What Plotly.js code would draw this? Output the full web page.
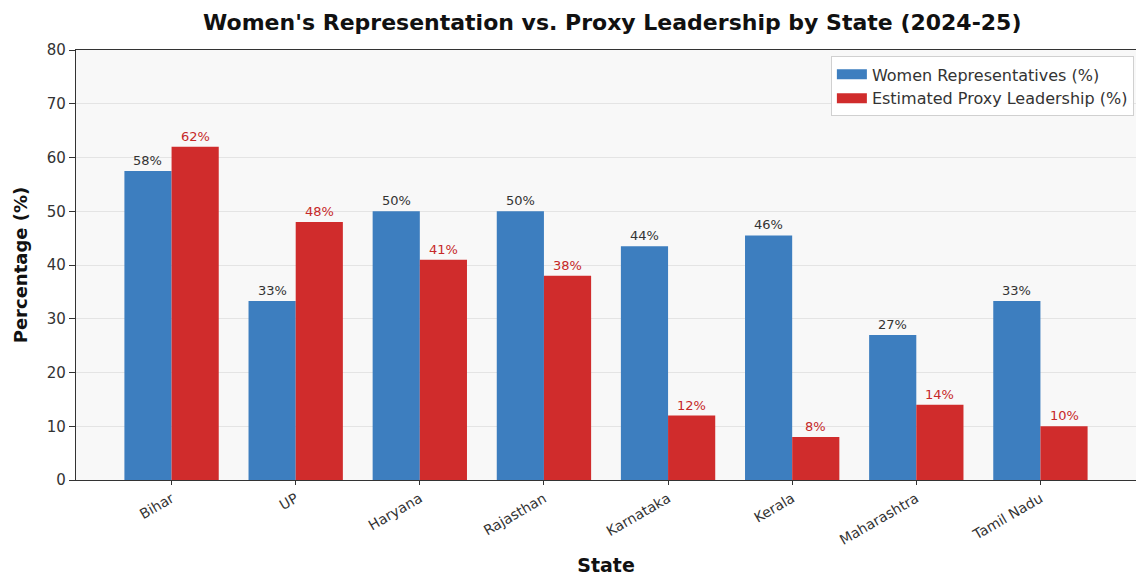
<!DOCTYPE html>
<html>
<head>
<meta charset="utf-8">
<script src="https://cdn.plot.ly/plotly-3.0.1.min.js"></script>
<style>
  html, body { margin: 0; padding: 0; background: #ffffff; }
  #chart { width: 1136px; height: 576px; }
</style>
</head>
<body>
<div id="chart"></div>
<script>
// State-level share of women representatives vs. estimated proxy leadership
const states = ['Bihar', 'UP', 'Haryana', 'Rajasthan', 'Karnataka', 'Kerala', 'Maharashtra', 'Tamil Nadu'];
const womenReps = [57.5, 33.3, 50, 50, 43.5, 45.5, 27, 33.3];
const proxyLeadership = [62, 48, 41, 38, 12, 8, 14, 10];
const seriesNames = ['Women Representatives (%)', 'Estimated Proxy Leadership (%)'];
const yTicks = [0, 10, 20, 30, 40, 50, 60, 70, 80];

const blue = '#3d7ebf';
const red = '#d02c2c';
const barWidth = 0.38;

const traces = [
  {
    type: 'bar', name: seriesNames[0],
    x: states, y: womenReps,
    marker: { color: blue },
    showlegend: false, hoverinfo: 'x+y'
  },
  {
    type: 'bar', name: seriesNames[1],
    x: states, y: proxyLeadership,
    marker: { color: red },
    showlegend: false, hoverinfo: 'x+y'
  },
  // Legend keys drawn as wide colour patches
  {
    type: 'scatter', mode: 'lines', name: seriesNames[0],
    x: [null], y: [null], line: { color: blue, width: 10 }, hoverinfo: 'skip'
  },
  {
    type: 'scatter', mode: 'lines', name: seriesNames[1],
    x: [null], y: [null], line: { color: red, width: 10 }, hoverinfo: 'skip'
  }
];

// Value labels above each bar
const annotations = [];
states.forEach((s, i) => {
  annotations.push({
    x: i - barWidth / 2, y: womenReps[i], xref: 'x', yref: 'y',
    text: womenReps[i].toFixed(0) + '%', showarrow: false,
    yanchor: 'bottom', yshift: 1,
    font: { family: 'DejaVu Sans', size: 13, color: '#333333' }
  });
  annotations.push({
    x: i + barWidth / 2, y: proxyLeadership[i], xref: 'x', yref: 'y',
    text: proxyLeadership[i].toFixed(0) + '%', showarrow: false,
    yanchor: 'bottom', yshift: 1,
    font: { family: 'DejaVu Sans', size: 13, color: '#c62828' }
  });
});

const layout = {
  width: 1136, height: 576,
  margin: { l: 76, r: 0, t: 50, b: 96 },
  paper_bgcolor: '#ffffff',
  plot_bgcolor: '#f8f8f8',
  font: { family: 'DejaVu Sans', color: '#333333' },
  title: {
    text: "Women's Representation vs. Proxy Leadership by State (2024-25)",
    font: { family: 'DejaVu Sans', size: 22, color: '#111111', weight: 'bold' },
    x: 0.539, xanchor: 'center', y: 0.962, yanchor: 'middle'
  },
  barmode: 'group',
  bargap: 0.24,
  bargroupgap: 0,
  xaxis: {
    type: 'category',
    range: [-0.77, 7.77],
    tickangle: -30,
    ticks: 'outside', ticklen: 4, tickcolor: '#333333',
    tickfont: { family: 'DejaVu Sans', size: 14, color: '#333333' },
    showline: true, linecolor: '#333333', linewidth: 1.2, mirror: true,
    showgrid: false,
    title: { text: 'State', font: { family: 'DejaVu Sans', size: 19, color: '#111111', weight: 'bold' }, standoff: 16 }
  },
  yaxis: {
    range: [0, 80],
    tickvals: yTicks,
    ticks: 'outside', ticklen: 6, tickcolor: '#333333',
    tickfont: { family: 'DejaVu Sans', size: 15, color: '#333333' },
    showline: true, linecolor: '#333333', linewidth: 1.2,
    showgrid: true, gridcolor: '#e4e4e4', gridwidth: 1,
    zeroline: false,
    title: { text: 'Percentage (%)', font: { family: 'DejaVu Sans', size: 18, color: '#111111', weight: 'bold' }, standoff: 14 }
  },
  legend: {
    x: 0.998, xanchor: 'right', y: 0.985, yanchor: 'top',
    bgcolor: 'rgba(255,255,255,0.9)', bordercolor: '#d0d0d0', borderwidth: 1,
    font: { family: 'DejaVu Sans', size: 16, color: '#333333' },
    itemwidth: 30,
    tracegroupgap: 0
  },
  annotations: annotations,
  showlegend: true
};

Plotly.newPlot('chart', traces, layout, { displayModeBar: false, staticPlot: true });
</script>
</body>
</html>
